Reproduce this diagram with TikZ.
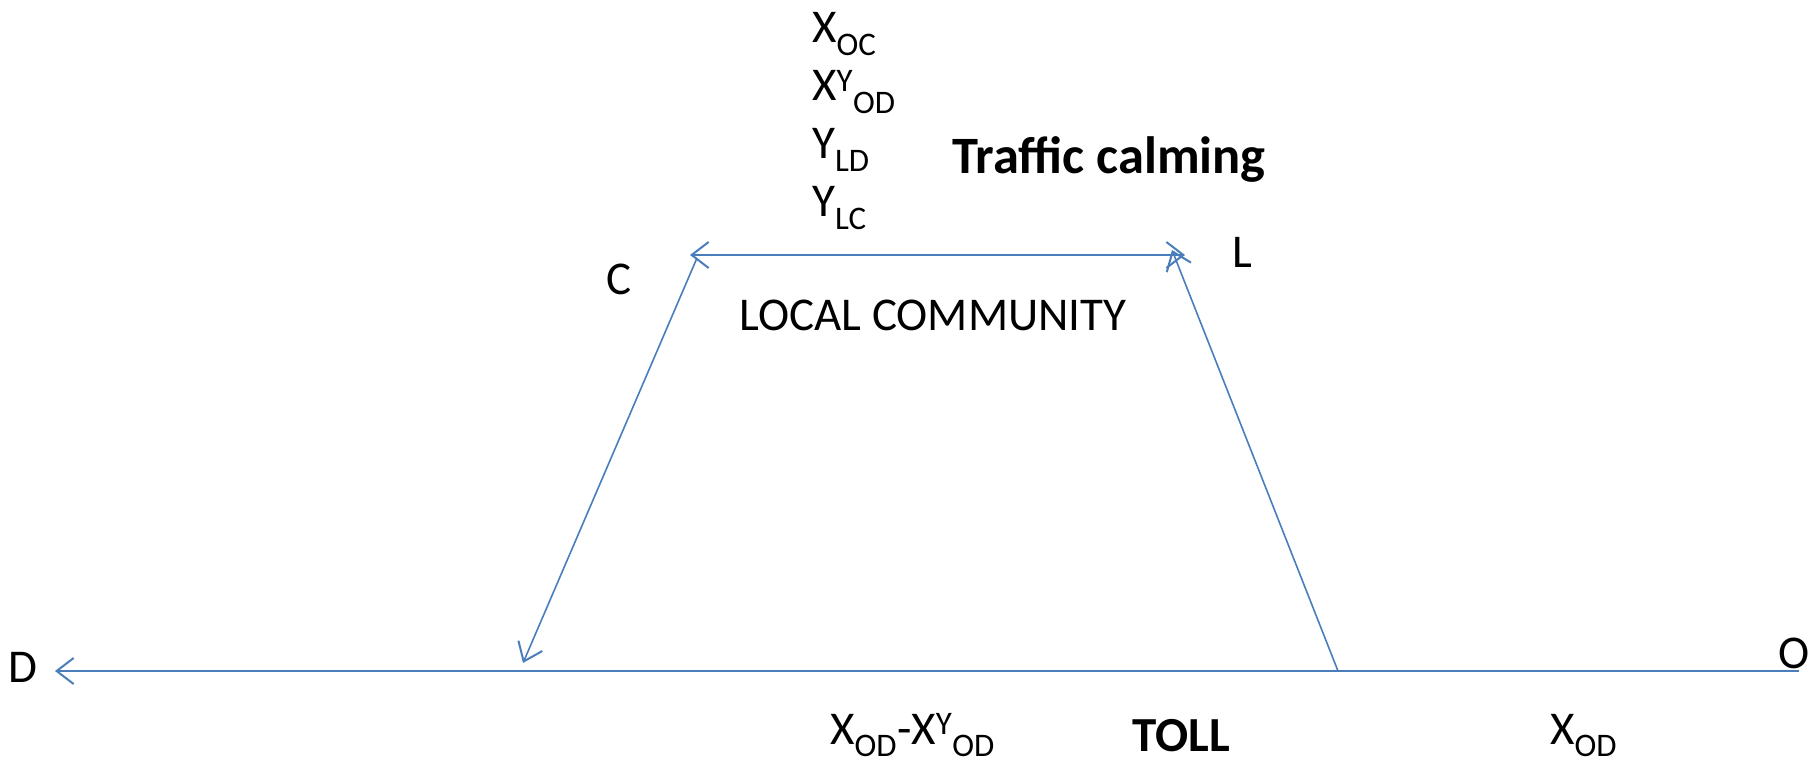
\documentclass[tikz,border=0pt]{standalone}
\usepackage{fontspec}
\setmainfont{Carlito}
\usetikzlibrary{arrows.meta}
\definecolor{lineblue}{HTML}{4A7EBB}
\tikzset{
  lbl/.style={font=\fontsize{47}{56}\selectfont, inner sep=0pt},
  boldlbl/.style={font=\fontsize{52.5}{62}\selectfont\bfseries, inner sep=0pt},
  tolllbl/.style={font=\fontsize{49}{58}\selectfont\bfseries, inner sep=0pt},
  road/.style={draw=lineblue, line width=2.5pt},
  link/.style={draw=lineblue, line width=1.6pt},
}
\begin{document}
\begin{tikzpicture}[x=1pt,y=-1pt, >={Straight Barb[length=17pt,width=26pt,line width=2pt]}]
\useasboundingbox (0,0) rectangle (1820,762);
\coordinate (oend) at (1799,671);
\coordinate (dend) at (55,671);
\coordinate (tollpt) at (1338,671);
\coordinate (ltip) at (1172,250);
\coordinate (ctop) at (697,258);
\coordinate (ctip) at (523,663);
\coordinate (tl) at (690,255);
\coordinate (tr) at (1185,255);
\draw[road,->] (oend) -- (dend);
\draw[link,->] (tollpt) -- (ltip);
\draw[link,->] (ctop) -- (ctip);
\draw[road,<->] (tl) -- (tr);
\node[lbl] (D) at (23,667) {D};
\node[lbl] (O) at (1794,653) {O};
\node[lbl] (C) at (619,279) {C};
\node[lbl] (L) at (1242,252) {L};
\node[lbl] (lc) at (933,315) {LOCAL COMMUNITY};
\node[lbl,anchor=base west] (xoc) at (812,43) {X\textsubscript{OC}};
\node[lbl,anchor=base west] (xyod) at (812,101) {X\textsuperscript{Y}\textsubscript{OD}};
\node[lbl,anchor=base west] (yld) at (812,159) {Y\textsubscript{LD}};
\node[lbl,anchor=base west] (ylc) at (812,217) {Y\textsubscript{LC}};
\node[boldlbl,anchor=base west] (tc) at (952,174) {Traffic calming};
\node[lbl,anchor=base west] (diff) at (830,744) {X\textsubscript{OD}-X\textsuperscript{Y}\textsubscript{OD}};
\node[tolllbl,anchor=base west] (tollt) at (1132,751) {TOLL};
\node[lbl,anchor=base west] (xod) at (1550,744) {X\textsubscript{OD}};
\end{tikzpicture}
\end{document}
